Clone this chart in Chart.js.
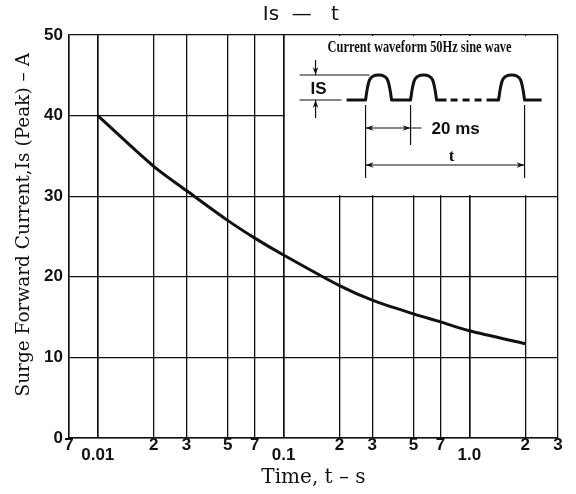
<!DOCTYPE html>
<html>
<head>
<meta charset="utf-8">
<script src="https://cdn.jsdelivr.net/npm/chart.js@4.4.1/dist/chart.umd.min.js"></script>
<style>
  html, body { margin: 0; padding: 0; background: #fff; }
</style>
</head>
<body>
<canvas id="isChart" width="576" height="494"></canvas>
<script>
// Is - t curve
const timeTicks = [0.007, 0.01, 0.02, 0.03, 0.05, 0.07, 0.1, 0.2, 0.3, 0.5, 0.7, 1, 2, 3];
const timeTickLabels = ['7', '0.01', '2', '3', '5', '7', '0.1', '2', '3', '5', '7', '1.0', '2', '3'];
const currentTicks = [0, 10, 20, 30, 40, 50];
const curveTime = [0.01, 0.02, 0.03, 0.05, 0.07, 0.1, 0.2, 0.3, 0.5, 0.7, 1, 2];
const curveCurrent = [40, 33.7, 30.7, 27.0, 24.8, 22.7, 18.9, 17.1, 15.4, 14.4, 13.3, 11.7];

const ink = '#111';

function arrowHead(ctx, x, y, dx, dy) {
  // small filled arrow tip pointing along (dx, dy)
  const len = 8, half = 2.8;
  const px = -dy, py = dx;
  ctx.beginPath();
  ctx.moveTo(x, y);
  ctx.lineTo(x - dx * len + px * half, y - dy * len + py * half);
  ctx.lineTo(x - dx * len * 0.7, y - dy * len * 0.7);
  ctx.lineTo(x - dx * len - px * half, y - dy * len - py * half);
  ctx.closePath();
  ctx.fill();
}

function hump(ctx, x, base, top, w) {
  const h = base - top;
  ctx.lineTo(x, base);
  ctx.bezierCurveTo(x + w * 0.1, base - h * 0.8, x + w * 0.14, top, x + w / 2, top);
  ctx.bezierCurveTo(x + w * 0.86, top, x + w * 0.9, base - h * 0.8, x + w, base);
}

function line(ctx, x1, y1, x2, y2) {
  ctx.beginPath();
  ctx.moveTo(x1, y1);
  ctx.lineTo(x2, y2);
  ctx.stroke();
}

const insetPlugin = {
  id: 'waveformInset',
  beforeDatasetsDraw(chart) {
    const { ctx, chartArea, scales } = chart;
    const x0 = scales.x.getPixelForValue(0.1);
    const yb = scales.y.getPixelForValue(30);
    const y0 = chartArea.top;
    ctx.save();
    ctx.fillStyle = '#fff';
    ctx.fillRect(x0 + 1.5, y0 + 1, chartArea.right - x0 - 2.5, yb - y0 - 2);

    ctx.fillStyle = ink;
    ctx.strokeStyle = ink;

    // caption
    ctx.font = 'bold 16px "Liberation Serif"';
    ctx.textAlign = 'center';
    ctx.textBaseline = 'middle';
    ctx.fillText('Current waveform 50Hz sine wave', x0 + 136, y0 + 13, 184);

    const base = y0 + 65, top = y0 + 40;
    // waveform
    ctx.lineWidth = 3;
    ctx.lineJoin = 'round';
    ctx.beginPath();
    ctx.moveTo(x0 + 63, base);
    hump(ctx, x0 + 82, base, top, 26);
    hump(ctx, x0 + 127, base, top, 26);
    ctx.lineTo(x0 + 163, base);
    ctx.stroke();
    ctx.setLineDash([7, 5]);
    line(ctx, x0 + 167, base, x0 + 201, base);
    ctx.setLineDash([]);
    ctx.beginPath();
    ctx.moveTo(x0 + 203, base);
    hump(ctx, x0 + 215, base, top, 26);
    ctx.lineTo(x0 + 258, base);
    ctx.stroke();

    // Is dimension
    ctx.lineWidth = 1.2;
    line(ctx, x0 + 16, top, x0 + 86, top);
    line(ctx, x0 + 16, base, x0 + 58, base);
    line(ctx, x0 + 32, y0 + 25, x0 + 32, top);
    arrowHead(ctx, x0 + 32, top, 0, 1);
    line(ctx, x0 + 32, y0 + 83, x0 + 32, base);
    arrowHead(ctx, x0 + 32, base, 0, -1);
    ctx.font = 'bold 17px "Liberation Sans"';
    ctx.textAlign = 'left';
    ctx.fillText('IS', x0 + 27, y0 + 54);

    // 20 ms and t dimensions
    const a = x0 + 82, b = x0 + 127, c = x0 + 241;
    line(ctx, a, y0 + 70, a, y0 + 143);
    line(ctx, b, y0 + 70, b, y0 + 110);
    line(ctx, c, y0 + 70, c, y0 + 143);
    const y20 = y0 + 93, yt = y0 + 130;
    line(ctx, a, y20, x0 + 138, y20);
    arrowHead(ctx, a, y20, -1, 0);
    arrowHead(ctx, b, y20, 1, 0);
    line(ctx, a, yt, c, yt);
    arrowHead(ctx, a, yt, -1, 0);
    arrowHead(ctx, c, yt, 1, 0);
    ctx.font = 'bold 17px "Liberation Sans"';
    ctx.fillText('20 ms', x0 + 148, y20 + 1);
    ctx.font = 'bold 17px "Liberation Serif"';
    ctx.textAlign = 'center';
    ctx.fillText('t', x0 + 168, y0 + 122);
    ctx.restore();
  }
};

const ctx = document.getElementById('isChart');
new Chart(ctx, {
  type: 'line',
  data: {
    datasets: [{
      data: curveTime.map((t, i) => ({ x: t, y: curveCurrent[i] })),
      borderColor: ink,
      borderWidth: 3,
      pointRadius: 0,
      tension: 0.3,
      fill: false
    }]
  },
  options: {
    responsive: false,
    animation: false,
    devicePixelRatio: 1,
    layout: { padding: { left: 0, right: 18, top: 0, bottom: 0 } },
    plugins: {
      legend: { display: false },
      tooltip: { enabled: false },
      title: {
        display: true,
        fullSize: false,
        text: 'Is  \u2014   t    ',
        color: ink,
        font: { family: 'DejaVu Sans', size: 20, weight: 'normal' },
        padding: { top: 3, bottom: 8 }
      }
    },
    scales: {
      x: {
        type: 'logarithmic',
        min: 0.007,
        max: 3,
        afterBuildTicks: s => { s.ticks = timeTicks.map(v => ({ value: v })); },
        afterFit: s => { s.height = 56; },
        grid: {
          color: ink,
          drawTicks: false,
          lineWidth: c => (c.tick && [0.01, 0.1, 1].includes(c.tick.value)) ? 1.7 : 1.3
        },
        border: { color: ink, width: 1.5 },
        ticks: {
          autoSkip: false,
          maxRotation: 0,
          padding: 2,
          color: ink,
          font: { family: 'Liberation Sans', size: 17, weight: 'bold', lineHeight: '10px' },
          callback: (v, i) => {
            const lab = timeTickLabels[i];
            return lab.includes('.') ? ['', lab] : lab;
          }
        },
        title: {
          display: true,
          text: 'Time, t \u2013 s',
          color: ink,
          font: { family: 'DejaVu Serif', size: 20 },
          padding: { top: 0, bottom: 4 }
        }
      },
      y: {
        min: 0,
        max: 50,
        afterBuildTicks: s => { s.ticks = currentTicks.map(v => ({ value: v })); },
        afterFit: s => { s.width = 69; },
        grid: { color: ink, drawTicks: false, lineWidth: 1.3 },
        border: { color: ink, width: 1.5 },
        ticks: {
          padding: 6,
          color: ink,
          font: { family: 'Liberation Sans', size: 17, weight: 'bold' }
        },
        title: {
          display: true,
          text: '    Surge Forward Current,Is (Peak) \u2013 A',
          color: ink,
          font: { family: 'DejaVu Serif', size: 18.5 },
          padding: { top: 13, bottom: 0 }
        }
      }
    }
  },
  plugins: [insetPlugin]
});
</script>
</body>
</html>
